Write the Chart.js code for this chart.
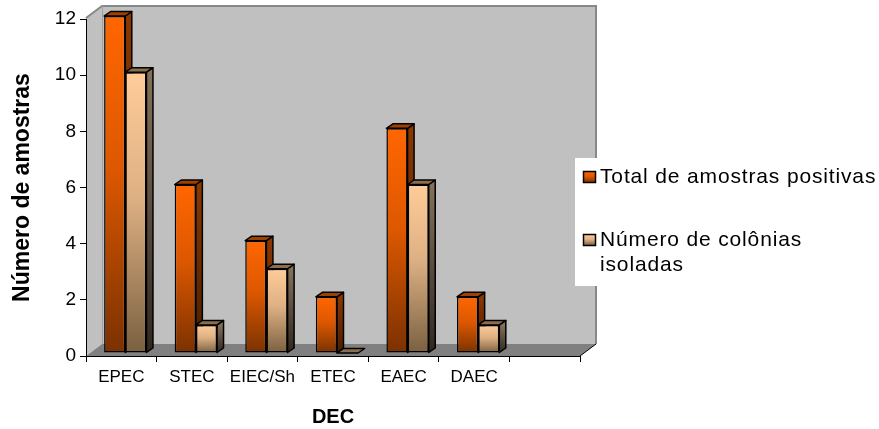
<!DOCTYPE html>
<html>
<head>
<meta charset="utf-8">
<script src="https://cdn.jsdelivr.net/npm/chart.js@4/dist/chart.umd.min.js"></script>
<style>
  html, body { margin: 0; padding: 0; background: #ffffff; }
  #wrap { width: 879px; height: 429px; }
</style>
</head>
<body>
<div id="wrap"><canvas id="c" width="879" height="429"></canvas></div>
<script>
// Categories (the last slot is an empty category on the axis)
const categories = ['EPEC', 'STEC', 'EIEC/Sh', 'ETEC', 'EAEC', 'DAEC', ''];
// Series values
const totalPositivas = [12, 6, 4, 2, 8, 2, null];
const coloniasIsoladas = [10, 1, 3, 0, 6, 1, null];
// Value axis ticks
const yTicks = [0, 2, 4, 6, 8, 10, 12];
// Series names and legend lines
const seriesNames = ['Total de amostras positivas', 'Número de colônias isoladas'];
const legendLines = [['Total de amostras positivas'], ['Número de colônias', 'isoladas']];
const yTitle = 'Número de amostras';
const xTitle = 'DEC';

// 3D look: wall depth, bar plane shift and bar depth (pixels)
const WALL_DX = 16, WALL_DY = -12;
const BAR_SHIFT_X = 4, BAR_SHIFT_Y = -3;
const BAR_DX = 6.5, BAR_DY = -4.5;

const FONT = '"Liberation Sans", Arial, sans-serif';

// Colour sets for each series: front gradient stops, side gradient, top face
const STYLE = [
  {
    front: [[0, '#FF6600'], [0.45, '#DD5800'], [1, '#7A3100']],
    side: ['#8A3700', '#4A1D00'],
    top: '#A04000'
  },
  {
    front: [[0, '#FFCC99'], [0.45, '#DDB083'], [1, '#7A6040']],
    side: ['#847058', '#302820'],
    top: '#8B6E4E'
  }
];

function frontFill(c, stops) {
  if (c.type !== 'data' || c.raw == null) return stops[0][1];
  const chart = c.chart;
  const ys = chart.scales.y;
  if (!ys || !chart.chartArea) return stops[0][1];
  const yTop = ys.getPixelForValue(c.raw);
  const yBase = ys.getPixelForValue(0);
  if (yBase - yTop < 1) return stops[0][1];
  const g = chart.ctx.createLinearGradient(0, yTop, 0, yBase);
  stops.forEach(([o, col]) => g.addColorStop(o, col));
  return g;
}

// Walls and floor of the 3D box, drawn behind axes and bars
const wallsPlugin = {
  id: 'walls',
  beforeDraw(chart) {
    const { ctx, chartArea: { left, right, top, bottom } } = chart;
    const t = top - 1;
    ctx.save();
    // back wall
    ctx.fillStyle = '#C0C0C0';
    ctx.fillRect(left + WALL_DX, t + WALL_DY, right - left, bottom - t);
    // left wall
    ctx.beginPath();
    ctx.moveTo(left, t);
    ctx.lineTo(left + WALL_DX, t + WALL_DY);
    ctx.lineTo(left + WALL_DX, bottom + WALL_DY);
    ctx.lineTo(left, bottom);
    ctx.closePath();
    ctx.fillStyle = '#C0C0C0';
    ctx.fill();
    // floor
    ctx.beginPath();
    ctx.moveTo(left, bottom);
    ctx.lineTo(left + WALL_DX, bottom + WALL_DY);
    ctx.lineTo(right + WALL_DX, bottom + WALL_DY);
    ctx.lineTo(right, bottom);
    ctx.closePath();
    ctx.fillStyle = '#808080';
    ctx.fill();
    // wall outlines
    ctx.strokeStyle = '#888888';
    ctx.lineWidth = 2;
    ctx.beginPath();
    ctx.moveTo(left, t);
    ctx.lineTo(left + WALL_DX, t + WALL_DY);
    ctx.lineTo(right + WALL_DX, t + WALL_DY);
    ctx.lineTo(right + WALL_DX, bottom + WALL_DY);
    ctx.stroke();
    ctx.lineWidth = 1;
    ctx.strokeStyle = '#A0A0A0';
    ctx.beginPath();
    ctx.moveTo(left + WALL_DX + 0.5, t + WALL_DY);
    ctx.lineTo(left + WALL_DX + 0.5, bottom + WALL_DY);
    ctx.stroke();
    ctx.strokeStyle = '#000000';
    ctx.beginPath();
    ctx.moveTo(right, bottom);
    ctx.lineTo(right + WALL_DX, bottom + WALL_DY);
    ctx.stroke();
    ctx.restore();
  }
};

// Side and top faces of each bar; front faces are the Chart.js bars
const barDepthPlugin = {
  id: 'barDepth',
  beforeDatasetsDraw(chart) {
    const ctx = chart.ctx;
    ctx.save();
    ctx.translate(BAR_SHIFT_X, BAR_SHIFT_Y);
    chart.data.datasets.forEach((ds, di) => {
      const meta = chart.getDatasetMeta(di);
      const st = STYLE[di];
      meta.data.forEach((bar, i) => {
        if (ds.data[i] == null) return;
        const { x, y, base, width } = bar.getProps(['x', 'y', 'base', 'width'], true);
        const l = x - width / 2, r = x + width / 2;
        ctx.save();
        ctx.lineWidth = 1.5;
        ctx.strokeStyle = '#000000';
        ctx.lineJoin = 'round';
        if (base - y > 0.5) {
          const g = ctx.createLinearGradient(0, y, 0, base);
          g.addColorStop(0, st.side[0]);
          g.addColorStop(1, st.side[1]);
          ctx.beginPath();
          ctx.moveTo(r, y);
          ctx.lineTo(r + BAR_DX, y + BAR_DY);
          ctx.lineTo(r + BAR_DX, base + BAR_DY);
          ctx.lineTo(r, base);
          ctx.closePath();
          ctx.fillStyle = g;
          ctx.fill();
          ctx.stroke();
        }
        ctx.beginPath();
        ctx.moveTo(l, y);
        ctx.lineTo(l + BAR_DX, y + BAR_DY);
        ctx.lineTo(r + BAR_DX, y + BAR_DY);
        ctx.lineTo(r, y);
        ctx.closePath();
        ctx.fillStyle = st.top;
        ctx.fill();
        ctx.stroke();
        ctx.restore();
      });
    });
  },
  afterDatasetsDraw(chart) {
    chart.ctx.restore();
  }
};

// Legend box on the right
const legendPlugin = {
  id: 'sideLegend',
  afterDraw(chart) {
    const ctx = chart.ctx;
    ctx.save();
    ctx.fillStyle = '#FFFFFF';
    ctx.fillRect(575, 158, 304, 128);
    const rows = [177, 240];
    ctx.font = '21px ' + FONT;
    if ('letterSpacing' in ctx) ctx.letterSpacing = '0.85px';
    ctx.textBaseline = 'middle';
    ctx.textAlign = 'left';
    legendLines.forEach((lines, di) => {
      const yc = rows[di];
      const stops = STYLE[di].front;
      const g = ctx.createLinearGradient(0, yc - 5.5, 0, yc + 5.5);
      stops.forEach(([o, col]) => g.addColorStop(o, col));
      ctx.fillStyle = g;
      ctx.fillRect(583.5, yc - 5.5, 12, 11);
      ctx.strokeStyle = '#000000';
      ctx.lineWidth = 1.5;
      ctx.strokeRect(583.5, yc - 5.5, 12, 11);
      ctx.fillStyle = '#000000';
      lines.forEach((txt, k) => ctx.fillText(txt, 600, yc + k * 25));
    });
    ctx.restore();
  }
};

new Chart(document.getElementById('c'), {
  type: 'bar',
  data: {
    labels: categories,
    datasets: [
      {
        label: seriesNames[0],
        data: totalPositivas,
        backgroundColor: c => frontFill(c, STYLE[0].front),
        borderColor: '#000000',
        borderWidth: 1.5,
        borderSkipped: false,
        clip: false
      },
      {
        label: seriesNames[1],
        data: coloniasIsoladas,
        backgroundColor: c => frontFill(c, STYLE[1].front),
        borderColor: '#000000',
        borderWidth: 1.5,
        borderSkipped: false,
        clip: false
      }
    ]
  },
  options: {
    responsive: false,
    animation: false,
    devicePixelRatio: 1,
    categoryPercentage: 0.6,
    barPercentage: 1.0,
    layout: { padding: { top: 19, right: 299, bottom: 0, left: 0 } },
    plugins: {
      legend: { display: false },
      tooltip: { enabled: false },
      title: { display: false }
    },
    scales: {
      x: {
        offset: true,
        grid: {
          offset: true,
          drawOnChartArea: false,
          drawTicks: true,
          tickLength: 6,
          color: '#000000'
        },
        border: { display: true, color: '#000000', width: 1 },
        ticks: {
          color: '#000000',
          font: { family: FONT, size: 17 },
          padding: 5,
          maxRotation: 0,
          autoSkip: false
        },
        title: {
          display: true,
          text: xTitle,
          color: '#000000',
          font: { family: FONT, size: 20, weight: 'bold' },
          padding: { top: 0, bottom: 0 }
        },
        afterFit(s) { s.height = 73; }
      },
      y: {
        min: 0,
        max: 12,
        afterBuildTicks(s) { s.ticks = yTicks.map(v => ({ value: v })); },
        grid: {
          drawOnChartArea: false,
          drawTicks: true,
          tickLength: 6,
          color: '#000000'
        },
        border: { display: true, color: '#000000', width: 1 },
        ticks: {
          color: '#000000',
          font: { family: FONT, size: 19 },
          padding: 4
        },
        title: {
          display: true,
          text: yTitle,
          color: '#000000',
          font: { family: FONT, size: 23, weight: 'bold' },
          padding: { top: 9, bottom: 0 }
        },
        afterFit(s) { s.width = 86; }
      }
    }
  },
  plugins: [wallsPlugin, barDepthPlugin, legendPlugin]
});
</script>
</body>
</html>
